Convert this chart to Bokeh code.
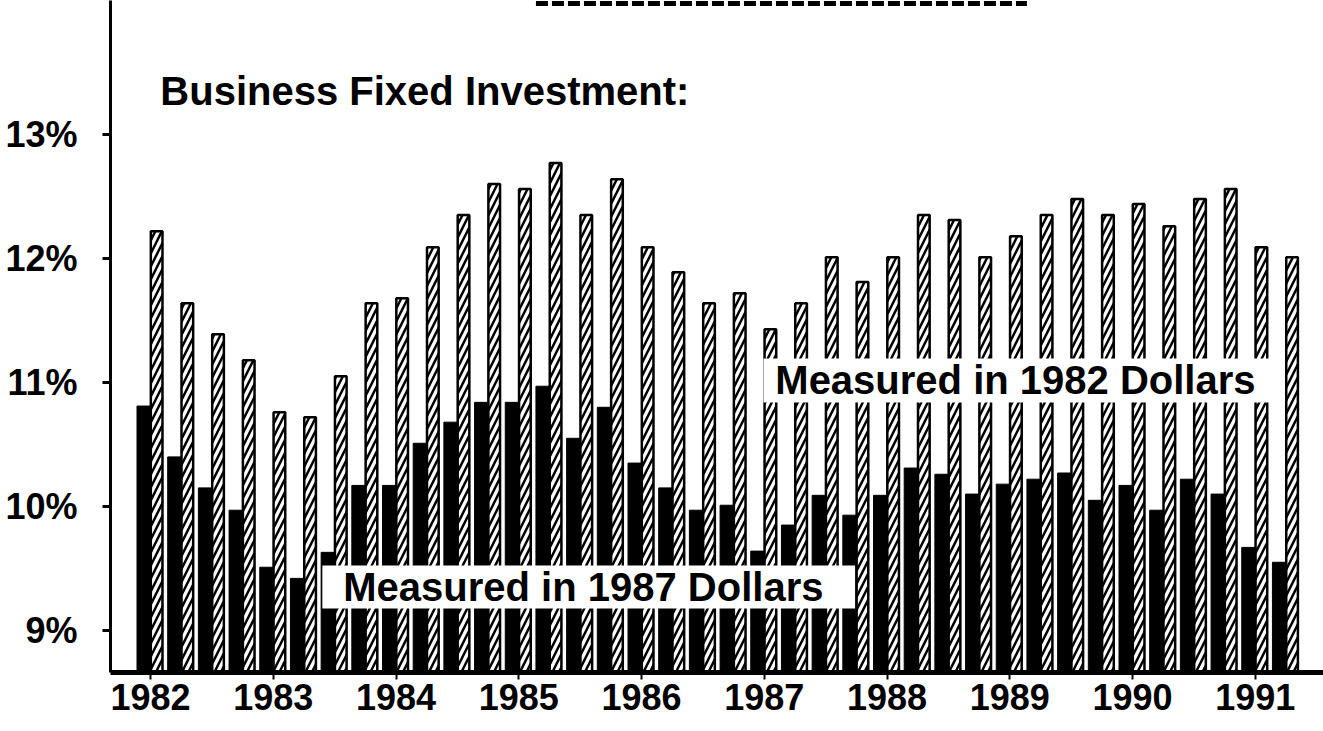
from bokeh.plotting import figure
from bokeh.models import Range1d, FixedTicker, Label, BoxAnnotation, Arrow
from bokeh.embed import file_html
from bokeh.resources import INLINE

# ---- data -------------------------------------------------------------
years = [1982, 1983, 1984, 1985, 1986, 1987, 1988, 1989, 1990, 1991]
quarters = [f"{y}Q{q}" for y in years for q in (1, 2, 3, 4)][:38]

# Business fixed investment share, measured in 1987 dollars (solid bars)
share_1987_dollars = [
    10.81, 10.40, 10.15, 9.97,
    9.51, 9.42, 9.63, 10.17,
    10.17, 10.51, 10.68, 10.84,
    10.84, 10.97, 10.55, 10.80,
    10.35, 10.15, 9.97, 10.01,
    9.64, 9.85, 10.09, 9.93,
    10.09, 10.31, 10.26, 10.10,
    10.18, 10.22, 10.27, 10.05,
    10.17, 9.97, 10.22, 10.10,
    9.67, 9.55,
]
# Business fixed investment share, measured in 1982 dollars (hatched bars)
share_1982_dollars = [
    12.22, 11.64, 11.39, 11.18,
    10.76, 10.72, 11.05, 11.64,
    11.68, 12.09, 12.35, 12.60,
    12.56, 12.77, 12.35, 12.64,
    12.09, 11.89, 11.64, 11.72,
    11.43, 11.64, 12.01, 11.81,
    12.01, 12.35, 12.31, 12.01,
    12.18, 12.35, 12.48, 12.35,
    12.44, 12.26, 12.48, 12.56,
    12.09, 12.01,
]
ytick_values = [9, 10, 11, 12, 13]
ytick_labels = ["9%", "10%", "11%", "12%", "13%"]
title_text = "Business Fixed Investment:"
label_1982 = "Measured in 1982 Dollars"
label_1987 = "Measured in 1987 Dollars"

# ---- derived positions -------------------------------------------------
t = [int(q[:4]) + (int(q[-1]) - 1) * 0.25 for q in quarters]
x_black = [v - 0.055 for v in t]
x_hatch = [v + 0.05 for v in t]

FONT = "Liberation Sans"
Y0 = 8.661

p = figure(width=1323, height=731, output_backend="svg", toolbar_location=None,
           x_range=Range1d(1981.674, 1991.556), y_range=Range1d(Y0, 14.081),
           min_border_left=110, min_border_right=0, min_border_top=0,
           min_border_bottom=59)
p.outline_line_color = None
p.xgrid.visible = False
p.ygrid.visible = False
p.background_fill_color = "white"
p.border_fill_color = "white"

p.vbar(x=x_black, top=share_1987_dollars, bottom=Y0, width=0.11,
       fill_color="black", line_color="black", line_width=1)
p.vbar(x=x_hatch, top=share_1982_dollars, bottom=Y0, width=0.095,
       fill_color="white", line_color="black", line_width=2.5,
       hatch_pattern="/", hatch_color="black", hatch_weight=2.5, hatch_scale=13)

# axes
ya = p.yaxis[0]
ya.ticker = FixedTicker(ticks=ytick_values)
ya.major_label_overrides = {v: s for v, s in zip(ytick_values, ytick_labels)}
ya.axis_line_width = 3
ya.major_tick_line_width = 3
ya.major_tick_out = 8
ya.major_tick_in = 0
ya.minor_tick_line_color = None
ya.major_label_standoff = 25
ya.major_label_text_font = FONT
ya.major_label_text_font_style = "bold"
ya.major_label_text_font_size = "36px"
ya.major_label_text_color = "black"

xa = p.xaxis[0]
xa.ticker = FixedTicker(ticks=years)
xa.major_label_overrides = {y: str(y) for y in years}
xa.axis_line_width = 5
xa.major_tick_line_width = 2
xa.major_tick_out = 7
xa.major_tick_in = 0
xa.minor_tick_line_color = None
xa.major_label_standoff = 4
xa.major_label_text_font = FONT
xa.major_label_text_font_style = "bold"
xa.major_label_text_font_size = "36px"
xa.major_label_text_color = "black"

# white boxes behind the series labels
p.add_layout(BoxAnnotation(left=1986.994, right=1991.13, bottom=10.839, top=11.194,
                           fill_color="white", fill_alpha=1, line_color=None))
p.add_layout(BoxAnnotation(left=1983.40, right=1987.74, bottom=9.177, top=9.524,
                           fill_color="white", fill_alpha=1, line_color=None))

p.add_layout(Label(x=1987.09, y=11.02, text=label_1982, text_font=FONT,
                   text_font_style="bold", text_font_size="40px",
                   text_baseline="middle", text_color="black"))
p.add_layout(Label(x=1983.57, y=9.35, text=label_1987, text_font=FONT,
                   text_font_style="bold", text_font_size="40px",
                   text_baseline="middle", text_color="black"))
p.add_layout(Label(x=1982.08, y=13.35, text=title_text, text_font=FONT,
                   text_font_style="bold", text_font_size="40px",
                   text_baseline="alphabetic", text_color="black"))

# dashed rule at the top (underline of a title above)
p.add_layout(Arrow(start=None, end=None, x_start=1985.14, y_start=14.056,
                   x_end=1989.14, y_end=14.056, line_width=5,
                   line_dash="12 4", line_color="black"))

open("out.html", "w").write(file_html(p, INLINE))
